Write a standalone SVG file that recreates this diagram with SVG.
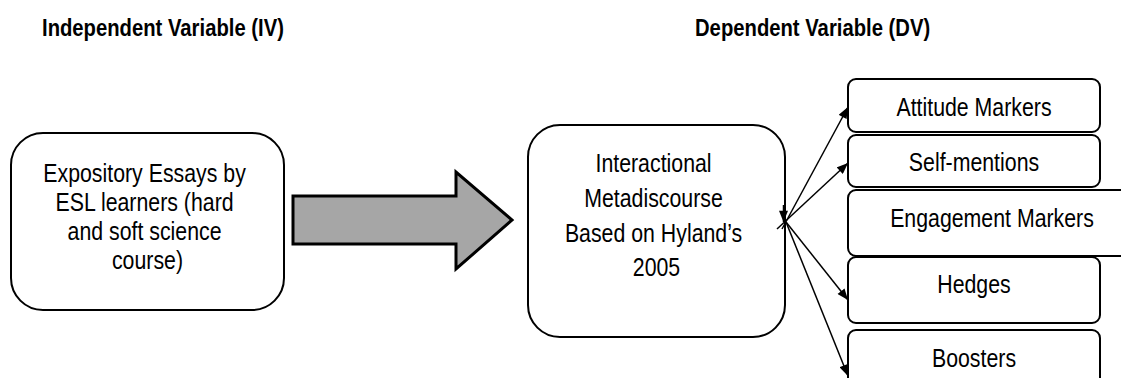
<svg xmlns="http://www.w3.org/2000/svg" width="1121" height="378" viewBox="0 0 1121 378">
  <defs>
    <marker id="ah" viewBox="0 0 10 8" refX="10" refY="4" markerWidth="12" markerHeight="9" markerUnits="userSpaceOnUse" orient="auto">
      <path d="M0,0 L10,4 L0,8 z" fill="#000"/>
    </marker>
  </defs>
  <style>
    .box { fill: #fff; stroke: #000; stroke-width: 2; }
    .lbl { font-family: "Liberation Sans", Arial, sans-serif; font-size: 26px; fill: #000; text-anchor: middle; }
    .ttl { font-family: "Liberation Sans", Arial, sans-serif; font-size: 24.7px; font-weight: bold; fill: #000; }
    .con { stroke: #000; stroke-width: 1.5; fill: none; marker-end: url(#ah); }
  </style>
  <rect width="1121" height="378" fill="#fff"/>

  <g id="title-iv">
    <text class="ttl" transform="translate(42,36) scale(0.82,1)">Independent Variable (IV)</text>
  </g>
  <g id="title-dv">
    <text class="ttl" transform="translate(695,36) scale(0.82,1)">Dependent Variable (DV)</text>
  </g>

  <g id="iv-box">
    <rect class="box" x="11" y="133" width="273" height="177" rx="32" ry="32"/>
    <text class="lbl" transform="translate(147.5,182) scale(0.82,1)">
      <tspan x="0" dy="0">Expository Essays by</tspan>
      <tspan x="0" dy="29">ESL learners (hard</tspan>
      <tspan x="0" dy="29">and soft science</tspan>
      <tspan x="0" dy="29">course)</tspan>
    </text>
  </g>

  <g id="big-arrow">
    <polygon points="293,196 456,196 456,172 512,220 456,269 456,244 293,244" fill="#a6a6a6" stroke="#000" stroke-width="3" stroke-linejoin="miter"/>
  </g>

  <g id="dv-box">
    <rect class="box" x="528" y="125" width="257" height="212" rx="32" ry="32"/>
    <text class="lbl" transform="translate(656.5,172) scale(0.82,1)">
      <tspan x="0" dy="0">Interactional</tspan>
      <tspan x="0" dy="34.8">Metadiscourse</tspan>
      <tspan x="0" dy="34.8">Based on Hyland’s</tspan>
      <tspan x="0" dy="34.8">2005</tspan>
    </text>
  </g>

  <g id="attitude">
    <rect class="box" x="848" y="79" width="252" height="53" rx="8" ry="8"/>
    <text class="lbl" transform="translate(974,115.5) scale(0.82,1)">Attitude Markers</text>
  </g>
  <g id="self-mentions">
    <rect class="box" x="848" y="135" width="252" height="52" rx="8" ry="8"/>
    <text class="lbl" transform="translate(974,171) scale(0.82,1)">Self-mentions</text>
  </g>
  <g id="engagement">
    <rect class="box" x="848" y="190" width="300" height="66" rx="8" ry="8"/>
    <text class="lbl" transform="translate(992,227) scale(0.82,1)">Engagement Markers</text>
  </g>
  <g id="hedges">
    <rect class="box" x="848" y="257" width="252" height="66" rx="8" ry="8"/>
    <text class="lbl" transform="translate(974,293) scale(0.82,1)">Hedges</text>
  </g>
  <g id="boosters">
    <rect class="box" x="848" y="330" width="252" height="66" rx="8" ry="8"/>
    <text class="lbl" transform="translate(974,367) scale(0.82,1)">Boosters</text>
  </g>

  <g id="connectors">
    <line class="con" x1="782" y1="229" x2="848" y2="107"/>
    <line class="con" x1="777" y1="229" x2="848" y2="163"/>
    <line class="con" x1="786" y1="222" x2="848" y2="300"/>
    <line class="con" x1="786" y1="222" x2="848" y2="376"/>
    <line class="con" x1="783.5" y1="205" x2="783.5" y2="222"/>
  </g>
</svg>
